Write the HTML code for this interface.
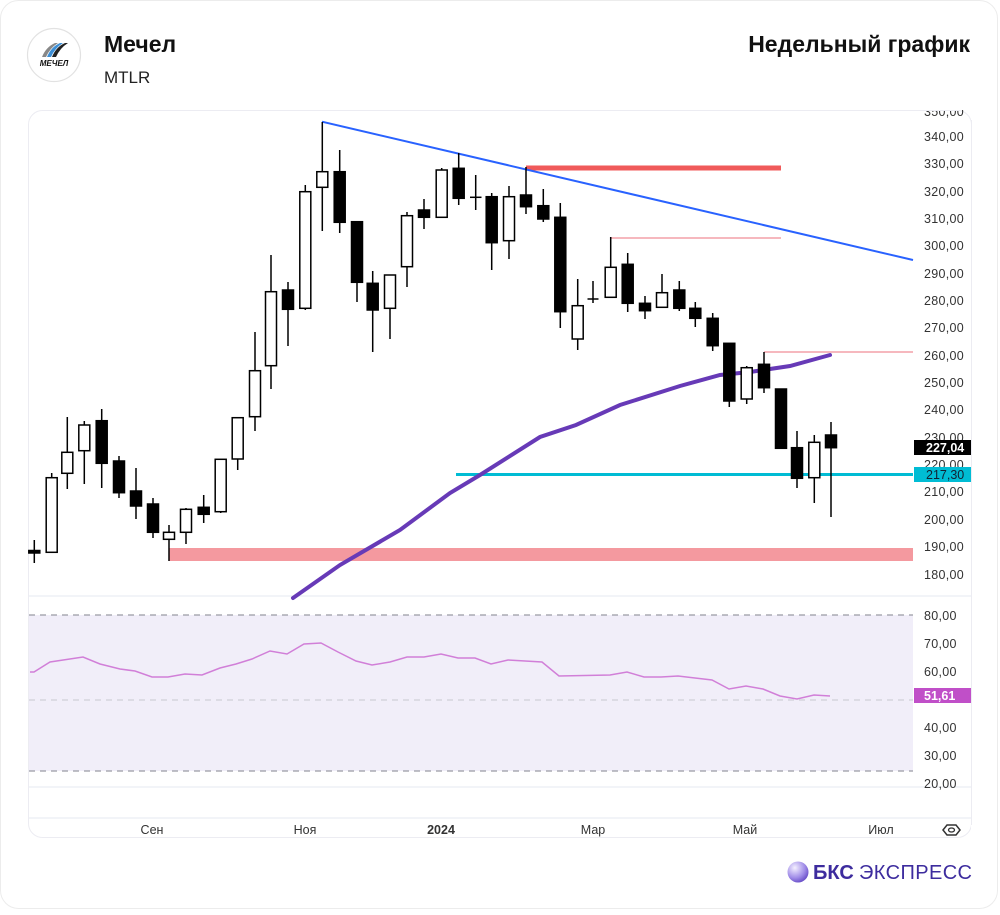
<!DOCTYPE html>
<html><head><meta charset="utf-8"><style>
html,body{margin:0;padding:0;background:#fff;}
body{width:1000px;height:910px;overflow:hidden;font-family:"Liberation Sans","DejaVu Sans",sans-serif;}
</style></head><body>
<svg width="1000" height="910" viewBox="0 0 1000 910" xmlns="http://www.w3.org/2000/svg" font-family="Liberation Sans, DejaVu Sans, sans-serif">
<rect x="0.5" y="0.5" width="997" height="908" rx="18" fill="#fff" stroke="#ececec"/>
<!-- header -->
<circle cx="54" cy="55" r="26.5" fill="#fff" stroke="#e2e2e2" stroke-width="1.2"/>
<path d="M42 57 Q46 47 55 43 L58 43 Q50 48 46 57Z" fill="#888"/>
<path d="M47 57 Q51 47 60 43 L63 43 Q55 48 51 57Z" fill="#3d8fd6"/>
<path d="M52 57 Q56 47 65 43 L68 43 Q60 48 56 57Z" fill="#222"/>
<text x="54" y="66" font-size="8" font-weight="bold" font-style="italic" text-anchor="middle" fill="#111">МЕЧЕЛ</text>
<text x="104" y="52" font-size="23" font-weight="bold" fill="#111">Мечел</text>
<text x="104" y="83" font-size="17" fill="#222">MTLR</text>
<text x="970" y="52" font-size="23" font-weight="bold" fill="#111" text-anchor="end">Недельный график</text>
<!-- panel -->
<rect x="28.5" y="110.5" width="943" height="727" rx="14" fill="#fff" stroke="#ececf2"/>
<line x1="29" y1="596" x2="971" y2="596" stroke="#e6e8f0"/>
<line x1="29" y1="787" x2="971" y2="787" stroke="#e6e8f0"/>
<line x1="29" y1="818" x2="971" y2="818" stroke="#e6e8f0"/>
<!-- RSI band -->
<rect x="29" y="615" width="884" height="156" fill="#f1eef9"/>
<line x1="29" y1="615" x2="913" y2="615" stroke="#9a9aa5" stroke-width="1.2" stroke-dasharray="6,5"/>
<line x1="29" y1="700" x2="913" y2="700" stroke="#c8c8d0" stroke-width="1" stroke-dasharray="6,5"/>
<line x1="29" y1="771" x2="913" y2="771" stroke="#9a9aa5" stroke-width="1.2" stroke-dasharray="6,5"/>
<polyline fill="none" stroke="#d17fd8" stroke-width="1.5" points="30,672 34,672 50,662 83,657 100,664 120,669 135,671 152,677 168,677 185,674 202,675 220,668 236,664 252,659 270,651 287,654 304,644 321,643 338,652 356,661 372,665 390,662 407,657 424,657 441,654 458,658 475,658 491,664 508,660 542,662 559,676 610,675 627,672 644,677 661,677 678,676 695,678 712,680 729,689 746,686 763,689 780,696 797,699 814,695 830,696"/>
<!-- levels -->
<rect x="169" y="548" width="744" height="13" fill="#f4999f"/>
<line x1="526" y1="168" x2="781" y2="168" stroke="#f05a5a" stroke-width="5"/>
<line x1="611" y1="238" x2="781" y2="238" stroke="#f4a0a8" stroke-width="1.5"/>
<line x1="764" y1="352" x2="913" y2="352" stroke="#f4a0a8" stroke-width="1.5"/>
<line x1="456" y1="474.5" x2="913" y2="474.5" stroke="#00bcd4" stroke-width="3"/>
<line x1="322" y1="121.7" x2="913" y2="260" stroke="#2962ff" stroke-width="2"/>
<polyline fill="none" stroke="#673ab7" stroke-width="4" stroke-linecap="round" points="293,598 340,565 400,530 450,493 480,475 540,437 576,425 620,405 680,386 720,375 750,372 790,366 830,355"/>
<!-- candles -->
<g stroke="#000" stroke-width="1.5">
<line x1="34.3" y1="540" x2="34.3" y2="563"/><rect x="28.8" y="550.5" width="11" height="2.5" fill="#000"/>
<line x1="51.7" y1="473" x2="51.7" y2="552"/><rect x="46.2" y="477.7" width="11" height="74.6" fill="#fff"/>
<line x1="67.3" y1="417" x2="67.3" y2="489"/><rect x="61.8" y="452.3" width="11" height="21" fill="#fff"/>
<line x1="84.3" y1="421" x2="84.3" y2="484"/><rect x="78.8" y="425" width="11" height="25.7" fill="#fff"/>
<line x1="101.7" y1="409" x2="101.7" y2="488"/><rect x="96.2" y="420.7" width="11" height="42.6" fill="#000"/>
<line x1="119" y1="456" x2="119" y2="498"/><rect x="113.5" y="461" width="11" height="31.7" fill="#000"/>
<line x1="136" y1="468" x2="136" y2="519"/><rect x="130.5" y="491" width="11" height="15" fill="#000"/>
<line x1="153" y1="498" x2="153" y2="538"/><rect x="147.5" y="504" width="11" height="28.3" fill="#000"/>
<line x1="169" y1="525" x2="169" y2="561"/><rect x="163.5" y="532.3" width="11" height="7" fill="#fff"/>
<line x1="186" y1="508" x2="186" y2="544"/><rect x="180.5" y="509.3" width="11" height="23" fill="#fff"/>
<line x1="203.7" y1="495" x2="203.7" y2="523"/><rect x="198.2" y="507.3" width="11" height="7" fill="#000"/>
<line x1="220.7" y1="459" x2="220.7" y2="513"/><rect x="215.2" y="459.3" width="11" height="52.4" fill="#fff"/>
<line x1="237.7" y1="417" x2="237.7" y2="470"/><rect x="232.2" y="417.7" width="11" height="41.3" fill="#fff"/>
<line x1="255" y1="332" x2="255" y2="431"/><rect x="249.5" y="370.7" width="11" height="46" fill="#fff"/>
<line x1="271" y1="255" x2="271" y2="389"/><rect x="265.5" y="291.7" width="11" height="74" fill="#fff"/>
<line x1="288" y1="282" x2="288" y2="346"/><rect x="282.5" y="290" width="11" height="19.3" fill="#000"/>
<line x1="305.3" y1="185" x2="305.3" y2="310"/><rect x="299.8" y="191.7" width="11" height="116.6" fill="#fff"/>
<line x1="322.3" y1="122" x2="322.3" y2="231"/><rect x="316.8" y="171.7" width="11" height="15.6" fill="#fff"/>
<line x1="339.7" y1="150" x2="339.7" y2="233"/><rect x="334.2" y="171.7" width="11" height="50.6" fill="#000"/>
<line x1="357" y1="221" x2="357" y2="302"/><rect x="351.5" y="221.7" width="11" height="60.6" fill="#000"/>
<line x1="372.7" y1="271" x2="372.7" y2="352"/><rect x="367.2" y="283.3" width="11" height="26.7" fill="#000"/>
<line x1="390" y1="275" x2="390" y2="339"/><rect x="384.5" y="275" width="11" height="33.3" fill="#fff"/>
<line x1="407" y1="212" x2="407" y2="287"/><rect x="401.5" y="215.7" width="11" height="51" fill="#fff"/>
<line x1="424" y1="199" x2="424" y2="229"/><rect x="418.5" y="210" width="11" height="7.3" fill="#000"/>
<line x1="441.7" y1="168" x2="441.7" y2="217"/><rect x="436.2" y="170" width="11" height="47.3" fill="#fff"/>
<line x1="458.7" y1="153" x2="458.7" y2="205"/><rect x="453.2" y="168.3" width="11" height="30" fill="#000"/>
<line x1="475.7" y1="175" x2="475.7" y2="210"/><line x1="470" y1="197.3" x2="481.5" y2="197.3"/>
<line x1="491.7" y1="193" x2="491.7" y2="270"/><rect x="486.2" y="196.7" width="11" height="46" fill="#000"/>
<line x1="509" y1="186" x2="509" y2="259"/><rect x="503.5" y="196.7" width="11" height="44" fill="#fff"/>
<line x1="526" y1="167" x2="526" y2="214"/><rect x="520.5" y="195" width="11" height="11.7" fill="#000"/>
<line x1="543.3" y1="189" x2="543.3" y2="222"/><rect x="537.8" y="205.7" width="11" height="13.3" fill="#000"/>
<line x1="560.3" y1="203" x2="560.3" y2="328"/><rect x="554.8" y="217.3" width="11" height="94.4" fill="#000"/>
<line x1="577.7" y1="279" x2="577.7" y2="350"/><rect x="572.2" y="305.7" width="11" height="33.3" fill="#fff"/>
<line x1="593" y1="281" x2="593" y2="303"/><line x1="587.5" y1="299" x2="598.5" y2="299"/>
<line x1="610.7" y1="237" x2="610.7" y2="297"/><rect x="605.2" y="267.3" width="11" height="30" fill="#fff"/>
<line x1="627.7" y1="253" x2="627.7" y2="312"/><rect x="622.2" y="264.3" width="11" height="39" fill="#000"/>
<line x1="645" y1="296" x2="645" y2="319"/><rect x="639.5" y="303.3" width="11" height="7.4" fill="#000"/>
<line x1="662" y1="274" x2="662" y2="307"/><rect x="656.5" y="292.7" width="11" height="14.6" fill="#fff"/>
<line x1="679.3" y1="281" x2="679.3" y2="311"/><rect x="673.8" y="290" width="11" height="18.3" fill="#000"/>
<line x1="695.3" y1="302" x2="695.3" y2="327"/><rect x="689.8" y="308.3" width="11" height="10" fill="#000"/>
<line x1="712.7" y1="313" x2="712.7" y2="351"/><rect x="707.2" y="318.3" width="11" height="27.4" fill="#000"/>
<line x1="729.3" y1="343" x2="729.3" y2="407"/><rect x="723.8" y="343.3" width="11" height="57.7" fill="#000"/>
<line x1="746.7" y1="366" x2="746.7" y2="404"/><rect x="741.2" y="367.7" width="11" height="31.3" fill="#fff"/>
<line x1="764" y1="352" x2="764" y2="393"/><rect x="758.5" y="364.3" width="11" height="23.4" fill="#000"/>
<line x1="781" y1="389" x2="781" y2="449"/><rect x="775.5" y="389" width="11" height="59.3" fill="#000"/>
<line x1="797" y1="431" x2="797" y2="488"/><rect x="791.5" y="447.7" width="11" height="30.6" fill="#000"/>
<line x1="814.3" y1="435" x2="814.3" y2="503"/><rect x="808.8" y="442.3" width="11" height="35.4" fill="#fff"/>
<line x1="831" y1="422" x2="831" y2="517"/><rect x="825.5" y="435" width="11" height="12.7" fill="#000"/>
</g>
<!-- right axis -->
<g font-size="12.5" fill="#333" letter-spacing="0.3">
<text x="924" y="116">350,00</text>
<text x="924" y="141">340,00</text>
<text x="924" y="168">330,00</text>
<text x="924" y="196">320,00</text>
<text x="924" y="223">310,00</text>
<text x="924" y="250">300,00</text>
<text x="924" y="278">290,00</text>
<text x="924" y="305">280,00</text>
<text x="924" y="332">270,00</text>
<text x="924" y="360">260,00</text>
<text x="924" y="387">250,00</text>
<text x="924" y="414">240,00</text>
<text x="924" y="442">230,00</text>
<text x="924" y="469">220,00</text>
<text x="924" y="524">200,00</text>
<text x="924" y="496">210,00</text>
<text x="924" y="551">190,00</text>
<text x="924" y="579">180,00</text>
<text x="924" y="620">80,00</text>
<text x="924" y="648">70,00</text>
<text x="924" y="676">60,00</text>
<text x="924" y="732">40,00</text>
<text x="924" y="760">30,00</text>
<text x="924" y="788">20,00</text>
</g>
<rect x="900" y="95" width="80" height="15" fill="#fff"/>
<line x1="900" y1="110.5" x2="960" y2="110.5" stroke="#ececf2"/>
<rect x="914" y="440" width="57" height="15" fill="#000"/>
<text x="926" y="452" font-size="12.5" font-weight="bold" fill="#fff">227,04</text>
<rect x="914" y="467" width="57" height="15" fill="#00bcd4"/>
<text x="926" y="479" font-size="12.5" fill="#123">217,30</text>
<rect x="914" y="688" width="57" height="15" fill="#c04fc8"/>
<text x="924" y="700" font-size="12.5" font-weight="bold" fill="#fff">51,61</text>
<rect x="971" y="100" width="25" height="740" fill="#fff"/>
<line x1="971.5" y1="120" x2="971.5" y2="825" stroke="#ececf2"/>
<!-- x axis -->
<g font-size="12.5" fill="#333" text-anchor="middle">
<text x="152" y="834">Сен</text>
<text x="305" y="834">Ноя</text>
<text x="441" y="834" font-weight="bold">2024</text>
<text x="593" y="834">Мар</text>
<text x="745" y="834">Май</text>
<text x="881" y="834">Июл</text>
</g>
<path d="M943 830 L947 825 L956 825 L960 830 L956 835 L947 835Z" fill="none" stroke="#333" stroke-width="1.5"/>
<ellipse cx="951.5" cy="830" rx="3" ry="2" fill="none" stroke="#333" stroke-width="1.3"/>
<!-- footer -->
<defs><radialGradient id="g" cx="0.35" cy="0.3" r="0.8"><stop offset="0" stop-color="#f4f0ff"/><stop offset="0.6" stop-color="#a08ce8"/><stop offset="1" stop-color="#5b3fc0"/></radialGradient></defs>
<circle cx="798" cy="872" r="10.5" fill="url(#g)"/>
<text x="813" y="879" font-size="20" font-weight="bold" fill="#3d2c9e">БКС</text>
<text x="859" y="879" font-size="20" fill="#3d2c9e" textLength="113">ЭКСПРЕСС</text>
</svg>
</body></html>
